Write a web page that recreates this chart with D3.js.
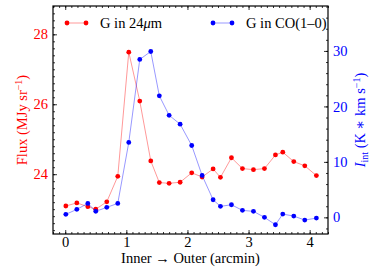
<!DOCTYPE html>
<html>
<head>
<meta charset="utf-8">
<script src="https://cdn.jsdelivr.net/npm/d3@7"></script>
<style>
  body { margin: 0; background: #fff; }
  svg text { font-family: "Liberation Serif", "DejaVu Serif", serif; }
</style>
</head>
<body>
<script>
// positions along the cut (arcmin)
const offsets = [0.01, 0.19, 0.37, 0.50, 0.68, 0.86, 1.04, 1.22, 1.40, 1.54, 1.70, 1.88, 2.07,
                 2.24, 2.42, 2.54, 2.72, 2.90, 3.08, 3.26, 3.44, 3.56, 3.74, 3.92, 4.11];
// 24um flux (MJy/sr)
const flux24 = [23.09, 23.18, 23.07, 23.00, 23.21, 23.94, 27.49, 26.09, 24.38, 23.76, 23.74, 23.77, 24.04,
                23.92, 24.15, 23.91, 24.47, 24.16, 24.13, 24.16, 24.55, 24.63, 24.36, 24.24, 23.96];
// CO(1-0) integrated intensity (K km/s)
const coInt = [0.54, 1.44, 2.52, 1.08, 1.80, 2.52, 13.5, 28.47, 29.9, 21.9, 18.4, 16.8, 12.95,
               7.55, 3.17, 1.98, 2.27, 1.26, 1.08, 0.0, -1.33, 0.59, 0.23, -0.49, -0.13];

const xTicks = [0, 1, 2, 3, 4];
const leftTicks = [24, 26, 28];
const rightTicks = [0, 10, 20, 30];

const W = 374, H = 273;
const margin = { top: 6, right: 46, bottom: 39, left: 53 };
const w = W - margin.left - margin.right;
const h = H - margin.top - margin.bottom;
const fs = "14.5px";

const svg = d3.select("body").append("svg")
  .attr("width", W).attr("height", H);
const g = svg.append("g").attr("transform", `translate(${margin.left},${margin.top})`);

const x = d3.scaleLinear().domain([-0.2, 4.3]).range([0, w]);
const yL = d3.scaleLinear().domain([22.29, 28.81]).range([h, 0]);
const yR = d3.scaleLinear().domain([-3.0, 38.1]).range([h, 0]);

const red = "#ff0000", blue = "#0000ff";

// minor ticks
const xMinor = d3.range(-2, 44).map(i => i / 10);
const lMinor = d3.range(112, 145).map(i => i / 5);
const rMinor = d3.range(-1, 20).map(i => i * 2);

function styleAxis(sel, color) {
  sel.select(".domain").remove();
  sel.selectAll("line").attr("stroke", "#000").attr("stroke-width", 0.8);
  sel.selectAll("text").attr("fill", color).style("font-size", fs);
}

g.append("g").attr("transform", `translate(0,${h})`)
  .call(d3.axisBottom(x).tickValues(xMinor).tickSize(-2).tickFormat(""))
  .call(s => styleAxis(s, "#000"));
g.append("g").attr("transform", `translate(0,${h})`)
  .call(d3.axisBottom(x).tickValues(xTicks).tickSize(-4).tickPadding(3).tickFormat(d3.format("d")))
  .call(s => styleAxis(s, "#000"));
g.append("g")
  .call(d3.axisTop(x).tickValues(xMinor).tickSize(-2).tickFormat(""))
  .call(s => styleAxis(s, "#000"));
g.append("g")
  .call(d3.axisTop(x).tickValues(xTicks).tickSize(-4).tickFormat(""))
  .call(s => styleAxis(s, "#000"));

g.append("g")
  .call(d3.axisLeft(yL).tickValues(lMinor).tickSize(-2).tickFormat(""))
  .call(s => styleAxis(s, red));
g.append("g")
  .call(d3.axisLeft(yL).tickValues(leftTicks).tickSize(-4).tickPadding(5).tickFormat(d3.format("d")))
  .call(s => styleAxis(s, red));

g.append("g").attr("transform", `translate(${w},0)`)
  .call(d3.axisRight(yR).tickValues(rMinor).tickSize(-2).tickFormat(""))
  .call(s => styleAxis(s, blue));
g.append("g").attr("transform", `translate(${w},0)`)
  .call(d3.axisRight(yR).tickValues(rightTicks).tickSize(-4).tickPadding(5).tickFormat(d3.format("d")))
  .call(s => styleAxis(s, blue));

// frame
g.append("rect").attr("width", w).attr("height", h)
  .attr("fill", "none").attr("stroke", "#000").attr("stroke-width", 1.2);

// series
const lineL = d3.line().x((d, i) => x(offsets[i])).y(d => yL(d));
const lineR = d3.line().x((d, i) => x(offsets[i])).y(d => yR(d));

g.append("path").attr("d", lineL(flux24))
  .attr("fill", "none").attr("stroke", red).attr("stroke-opacity", 0.45).attr("stroke-width", 0.9);
g.selectAll(".pt-red").data(flux24).enter().append("circle")
  .attr("class", "pt-red")
  .attr("cx", (d, i) => x(offsets[i])).attr("cy", d => yL(d))
  .attr("r", 2.4).attr("fill", red);

g.append("path").attr("d", lineR(coInt))
  .attr("fill", "none").attr("stroke", blue).attr("stroke-opacity", 0.45).attr("stroke-width", 0.9);
g.selectAll(".pt-blue").data(coInt).enter().append("circle")
  .attr("class", "pt-blue")
  .attr("cx", (d, i) => x(offsets[i])).attr("cy", d => yR(d))
  .attr("r", 2.4).attr("fill", blue);

// legend
function legendItem(lx, ly, color, build) {
  const lg = g.append("g").attr("transform", `translate(${lx},${ly})`);
  lg.append("line").attr("x1", 0).attr("x2", 19).attr("y1", 0).attr("y2", 0)
    .attr("stroke", color).attr("stroke-opacity", 0.45).attr("stroke-width", 0.9);
  lg.selectAll("circle").data([0, 19]).enter().append("circle")
    .attr("cx", d => d).attr("cy", 0).attr("r", 2.4).attr("fill", color);
  const t = lg.append("text").attr("x", 33).attr("y", 5).style("font-size", fs).attr("fill", "#000");
  build(t);
}
legendItem(14, 17, red, t => {
  t.append("tspan").text("G in 24");
  t.append("tspan").style("font-style", "italic").text("\u03bc");
  t.append("tspan").text("m");
});
legendItem(160, 17, blue, t => {
  t.append("tspan").text("G in CO(1\u20130)");
});

// axis labels
svg.append("text")
  .attr("x", margin.left + w / 2).attr("y", 263)
  .attr("text-anchor", "middle").style("font-size", fs).attr("fill", "#000")
  .text("Inner \u2192 Outer (arcmin)");

const yl = svg.append("text")
  .attr("transform", `translate(27,${margin.top + h / 2}) rotate(-90)`)
  .attr("text-anchor", "middle").style("font-size", fs).attr("fill", red);
yl.append("tspan").text("Flux (MJy sr");
yl.append("tspan").attr("dy", -5).style("font-size", "10px").text("\u22121");
yl.append("tspan").attr("dy", 5).text(")");

const yr = svg.append("text")
  .attr("transform", `translate(365,${margin.top + h / 2}) rotate(-90)`)
  .attr("text-anchor", "middle").style("font-size", fs).attr("fill", blue);
yr.append("tspan").style("font-style", "italic").text("I");
yr.append("tspan").attr("dy", 3).style("font-size", "10px").text("int");
yr.append("tspan").attr("dy", -3).text(" (K \u2217 km s");
yr.append("tspan").attr("dy", -5).style("font-size", "10px").text("\u22121");
yr.append("tspan").attr("dy", 5).text(")");
</script>
</body>
</html>
